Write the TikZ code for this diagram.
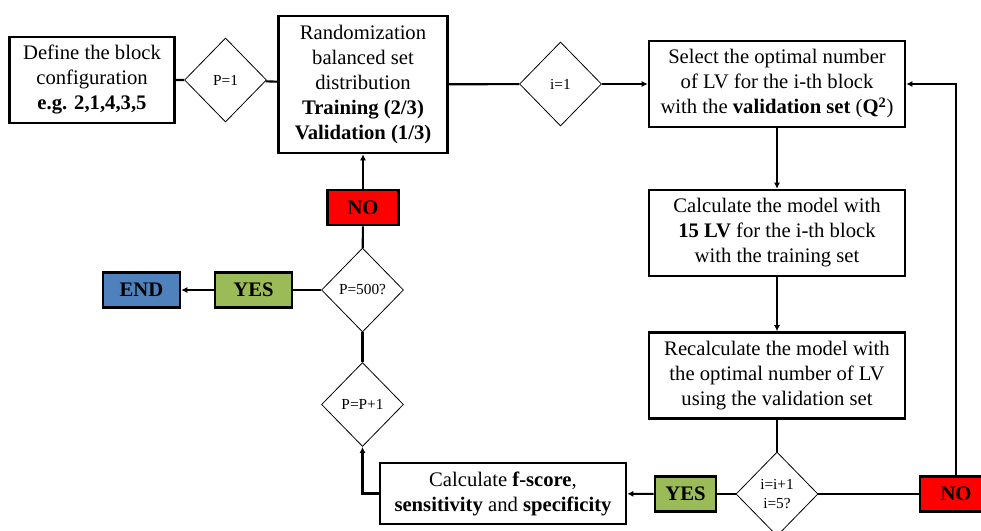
\documentclass[tikz,border=0pt]{standalone}
\usepackage{fontspec}
\setmainfont{Liberation Serif}
\usetikzlibrary{shapes.geometric}
\usetikzlibrary{arrows.meta}

\begin{document}
\begin{tikzpicture}[x=0.75pt,y=-0.75pt]
\colorlet{nocol}{red}
\definecolor{yescol}{RGB}{155,187,89}
\definecolor{endcol}{RGB}{79,129,189}
\tikzstyle{myarr}=[-{Latex[length=4.5,width=4.5]}]
\tikzset{
box/.style={draw,line width=1.9pt,align=center,inner sep=2pt,
  font=\fontsize{15.5}{18.75}\selectfont},
test/.style={draw,diamond,line width=0.6pt,inner sep=0pt,
  minimum width=61.5pt,minimum height=63pt,align=center,
  font=\fontsize{11.5}{14}\selectfont},
tag/.style={draw,line width=1.9pt,minimum height=26.5pt,inner sep=0pt,
  font=\fontsize{15.5}{18}\selectfont\bfseries},
link/.style={line width=1.6pt},
}
\def\bw{192pt}   % width of the model boxes
\def\bh{64.5pt}  % height of the model boxes

\useasboundingbox (0,0) rectangle (981,531);

% BOXES
\node[box,minimum width=123.75pt,minimum height=64.5pt] (define) at (92,80)
  {Define the block\\configuration\\\textbf{e.g. 2,1,4,3,5}};
\node[box,minimum width=126.75pt,minimum height=102.75pt] (rand) at (363,84.5)
  {Randomization\\balanced set\\distribution\\\textbf{Training (2/3)}\\\textbf{Validation (1/3)}};
\node[box,minimum width=\bw,minimum height=\bh] (select) at (777,84)
  {Select the optimal number\\of LV for the i-th block\\with the \textbf{validation set} (\textbf{Q\textsuperscript{2}})};
\node[box,minimum width=\bw,minimum height=\bh] (calc) at (777,233)
  {Calculate the model with\\\textbf{15 LV} for the i-th block\\with the training set};
\node[box,minimum width=\bw,minimum height=\bh] (recalc) at (777,375.5)
  {Recalculate the model with\\the optimal number of LV\\using the validation set};
\node[box,minimum width=184.5pt,minimum height=45.75pt] (score) at (503,493.5)
  {Calculate \textbf{f-score},\\\textbf{sensitivity} and \textbf{specificity}};

% DECISIONS
\node[test] (p1)   at (225.5,80)  {P=1};
\node[test] (i1)   at (560.5,84)  {i=1};
\node[test] (ichk) at (777,494)   {i=i+1\\i=5?};
\node[test] (pp1)  at (362.5,404.5) {P=P+1};
\node[test] (p500) at (362.5,290) {P=500?};

% YES / NO / END
\node[tag,fill=nocol,minimum width=53.25pt]  (no1)  at (363,207.5) {NO};
\node[tag,fill=yescol,minimum width=57.75pt] (yes1) at (253.5,290) {YES};
\node[tag,fill=endcol,minimum width=57.75pt] (end)  at (141.5,290) {END};
\node[tag,fill=yescol,minimum width=45.75pt] (yes2) at (685.5,494) {YES};
\node[tag,fill=nocol,minimum width=54pt]     (no2)  at (956,494)   {NO};

% CONNECTORS
\draw[link] (define) -- (p1) -- (rand);
\draw[link] (rand) -- (i1);
\draw[link,myarr] (i1) -- (select);
\draw[link,myarr] (select) -- (calc);
\draw[link,myarr] (calc) -- (recalc);
\draw[link] (recalc) -- (ichk);
\draw[link] (ichk) -- (no2);
\draw[link,myarr] (no2.north) |- (select.east);
\draw[link] (ichk) -- (yes2);
\draw[link,myarr] (yes2) -- (score);
\draw[link,myarr] (score.west) -| (pp1.south);
\draw[link] (pp1) -- (p500);
\draw[link] (p500) -- (no1);
\draw[link,myarr] (no1) -- (rand);
\draw[link] (p500) -- (yes1);
\draw[link,myarr] (yes1) -- (end);

\end{tikzpicture}
\end{document}
